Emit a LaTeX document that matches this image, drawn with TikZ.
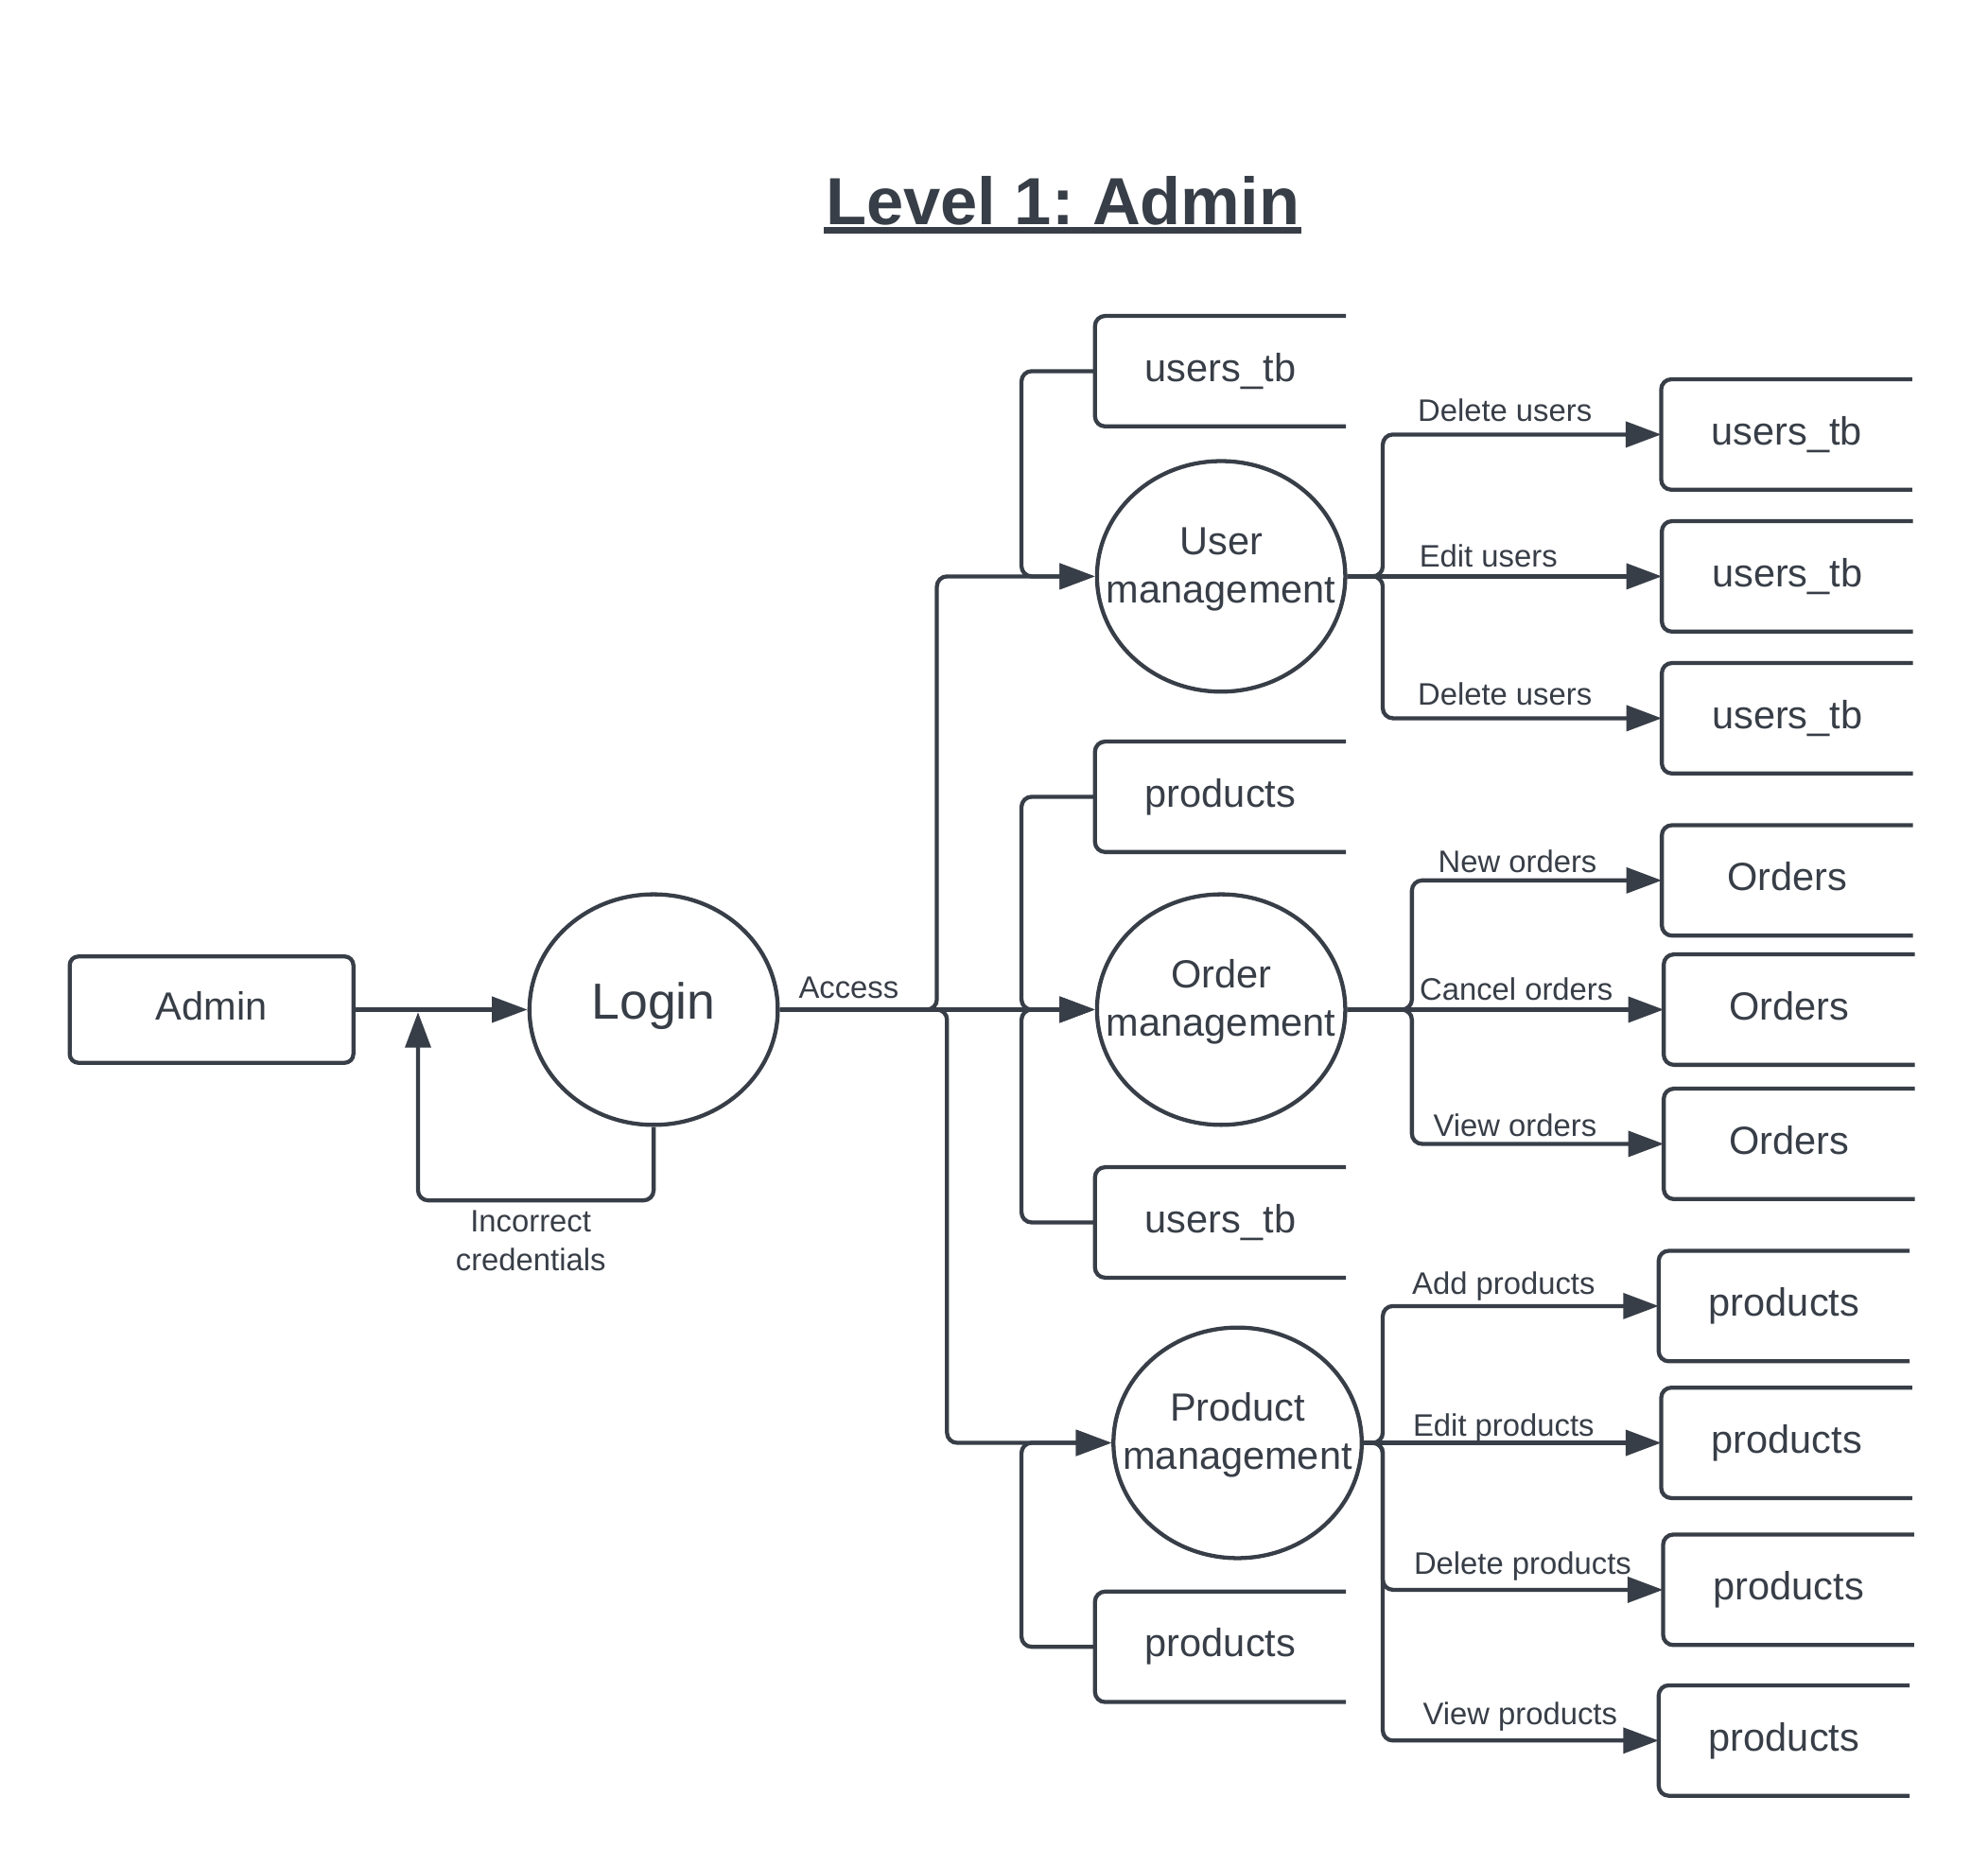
\documentclass[tikz,border=0pt]{standalone}
\usepackage{fontspec}
\setmainfont{Liberation Sans}
\usetikzlibrary{arrows.meta,shapes.geometric}
\definecolor{ink}{RGB}{56,62,71}
\begin{document}
\begin{tikzpicture}[x=1pt,y=-1pt,line width=3.2pt,draw=ink,text=ink,
  arr/.style={-{Triangle[length=28pt,width=20pt]},rounded corners=8pt},
  store/.style={minimum width=195pt,minimum height=84pt,inner sep=0pt,
    font=\fontsize{31}{35}\selectfont,text height=22.3pt,text depth=6.2pt},
  proc/.style={ellipse,draw,minimum width=196pt,minimum height=182pt,inner sep=0pt,
    align=center,font=\fontsize{31}{38}\selectfont,text height=42pt,text depth=0pt},
  lbl/.style={font=\fontsize{24.5}{30}\selectfont,text height=17.6pt,text depth=0pt,
    inner sep=0pt,align=center},
  outline/.style={rounded corners=8pt}]
\fill[white] (0,0) rectangle (1569.4,1473.8);
\useasboundingbox (0,0) rectangle (1569.4,1473.8);

% title
\node[font=\bfseries\fontsize{52.6}{60}\selectfont,inner sep=0pt,anchor=base] (title) at (839,177) {Level 1:\ Admin};
\draw[line width=5pt] ([yshift=-5pt]title.base west) -- ([yshift=-5pt]title.base east);

% entity and login
\node[draw,rounded corners=7pt,minimum width=224pt,minimum height=84pt,inner sep=0pt,
  font=\fontsize{31}{35}\selectfont,text height=22.3pt,text depth=6.2pt] (admin) at (167,797) {Admin};
\node[ellipse,draw,minimum width=196pt,minimum height=182pt,inner sep=0pt,
  font=\fontsize{40}{46}\selectfont,text height=28.8pt,text depth=14pt] (login) at (516,797) {Login};

% processes
\node[proc] (um) at (964,455) {\makebox[0pt]{User}\\\makebox[0pt]{management}};
\node[proc] (om) at (964,797) {\makebox[0pt]{Order}\\\makebox[0pt]{management}};
\node[proc] (pm) at (977,1139) {\makebox[0pt]{Product}\\\makebox[0pt]{management}};

% data stores, left column
\node[store] (s1) at (963.5,293) {users\_tb};
\node[store] (s2) at (963.5,629) {products};
\node[store] (s3) at (963.5,965) {users\_tb};
\node[store] (s4) at (963.5,1300) {products};
% data stores, right column
\node[store] (u1) at (1410.5,343) {users\_tb};
\node[store] (u2) at (1411,455) {users\_tb};
\node[store] (u3) at (1411,567) {users\_tb};
\node[store] (o1) at (1411,695) {Orders};
\node[store] (o2) at (1412.5,797) {Orders};
\node[store] (o3) at (1412.5,903) {Orders};
\node[store] (p1) at (1408.5,1031) {products};
\node[store] (p2) at (1410.5,1139) {products};
\node[store] (p3) at (1412,1255) {products};
\node[store] (p4) at (1408.5,1374) {products};
\foreach \s in {s1,s2,s3,s4,u1,u2,u3,o1,o2,o3,p1,p2,p3,p4}
  \draw[outline] (\s.north east) -- (\s.north west) -- (\s.south west) -- (\s.south east);

% login connections
\coordinate (lt) at (330,799);
\draw[arr] (admin.east) -- (login.west);
\draw[arr] (login.south) -- ++(0,58) -| (lt);
\node[lbl] (linc) at (419,994) {Incorrect\\credentials};
\draw[arr] (login.east) -- (om.west);
\draw[arr] (login.east) -- ++(124,0) |- (um.west);
\draw[arr] (login.east) -- ++(132,0) |- (pm.west);
\node[lbl] (lacc) at (670,779) {Access};

% stores into processes
\draw[arr] (s1.west) -- ++(-58,0) |- (um.west);
\draw[arr] (s2.west) -- ++(-58,0) |- (om.west);
\draw[arr] (s3.west) -- ++(-58,0) |- (om.west);
\draw[arr] (s4.west) -- ++(-58,0) |- (pm.west);

% user management outputs
\draw[arr] (um.east) -- ++(28,0) |- (u1.west);
\draw[arr] (um.east) -- (u2.west);
\draw[arr] (um.east) -- ++(28,0) |- (u3.west);
\node[lbl] (lu1) at (1188,324) {Delete users};
\node[lbl] (lu2) at (1175,439) {Edit users};
\node[lbl] (lu3) at (1188,548) {Delete users};

% order management outputs
\draw[arr] (om.east) -- ++(51,0) |- (o1.west);
\draw[arr] (om.east) -- (o2.west);
\draw[arr] (om.east) -- ++(51,0) |- (o3.west);
\node[lbl] (lo1) at (1198,680) {New orders};
\node[lbl] (lo2) at (1197,781) {Cancel orders};
\node[lbl] (lo3) at (1196,888) {View orders};

% product management outputs
\draw[arr] (pm.east) -- ++(15,0) |- (p1.west);
\draw[arr] (pm.east) -- (p2.west);
\draw[arr] (pm.east) -- ++(15,0) |- (p3.west);
\draw[arr] (pm.east) -- ++(15,0) |- (p4.west);
\node[lbl] (lp1) at (1187,1013) {Add products};
\node[lbl] (lp2) at (1187,1125) {Edit products};
\node[lbl] (lp3) at (1202,1234) {Delete products};
\node[lbl] (lp4) at (1200,1353) {View products};
\end{tikzpicture}
\end{document}
